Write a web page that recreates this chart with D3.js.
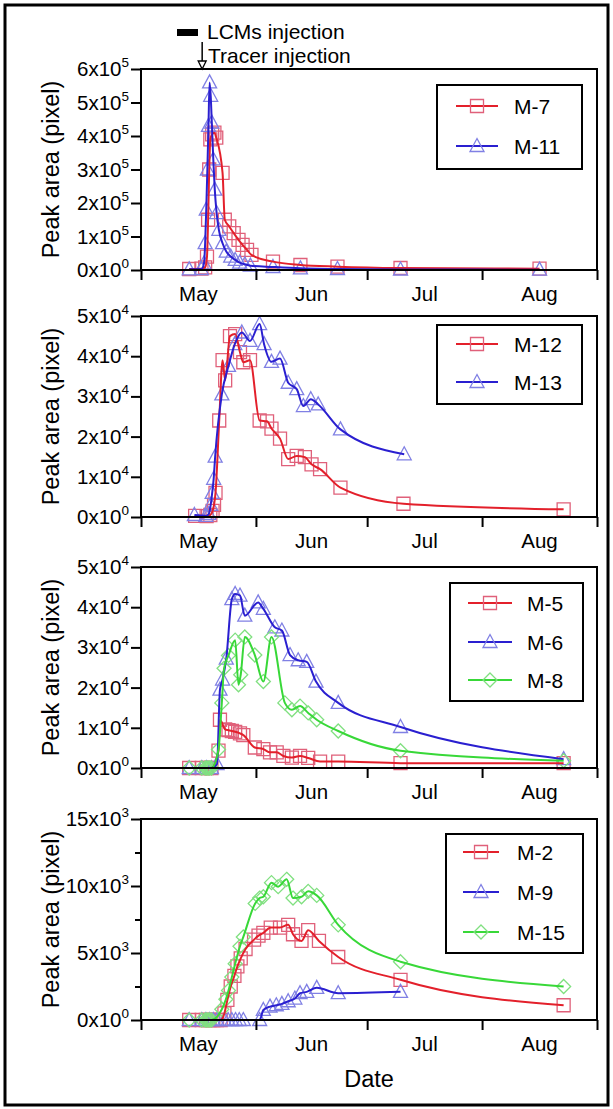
<!DOCTYPE html>
<html><head><meta charset="utf-8">
<script src="https://cdn.jsdelivr.net/npm/d3@7"></script>
<style>
body{margin:0;background:#fff}
svg{display:block}
text{font-family:"Liberation Sans",Arial,Helvetica,sans-serif;fill:#000}
</style>
</head><body>
<svg id="chart" width="613" height="1109"></svg>
<script>
// ---------- data (x = days since 1 May, y = peak area in pixel) ----------
const monthLabels = ["May", "Jun", "Jul", "Aug"];
const monthTicks = [0, 31, 61, 92, 123];
const monthMids = [15.5, 46, 76.5, 107.5];
const tracerDay = 16.5;

const m7 = [[13,3000],[16.3,4000],[17.3,8000],[17.8,40000],[18.1,150000],[18.4,300000],[18.7,390000],[19.2,405000],[19.8,410000],[20.3,395000],[22,290000],[22.6,150000],[23.8,130000],[25,110000],[26.3,90000],[27.4,75000],[28.6,60000],[29.8,45000],[35.6,25000],[43,15000],[53,10000],[70,6000],[107.5,4000]];
const m11 = [[13,2000],[16.3,3000],[17,20000],[17.3,80000],[17.6,180000],[17.9,300000],[18.2,430000],[18.5,560000],[18.8,520000],[19.1,440000],[19.5,330000],[19.9,240000],[20.4,170000],[21,120000],[22,80000],[23,55000],[24.2,40000],[25.4,30000],[26.6,22000],[28,17000],[29.5,13000],[35.6,9000],[43,5000],[53,3000],[70,1500],[107.5,1000]];

const m12 = [[14.6,300],[17.7,200],[18.7,500],[19.3,1500],[19.7,3000],[20.1,6000],[21.1,24000],[22,39000],[22.7,34000],[24,45000],[25.4,45500],[26.7,41000],[27.6,38500],[29.4,39000],[32,24000],[34,23800],[35.2,22000],[37.5,19500],[39.7,14400],[42,15200],[44.2,14900],[46,13100],[48.3,11900],[53.8,7300],[70.8,3300],[114,1900]];
const m13 = [[14.4,500],[17.5,300],[18.3,800],[18.8,3000],[19.2,6000],[19.6,9500],[20,15000],[21.8,30500],[23.6,37600],[25.3,43000],[27.2,45900],[29.4,43800],[32,48000],[33.2,43000],[35.2,38600],[37.5,39400],[39.7,33400],[42,31800],[43.8,27600],[45.8,29300],[47.8,28000],[53.8,21800],[71,15600]];

const m5 = [[13,0],[16.4,0],[17.7,0],[19,0],[20.9,4300],[21.3,12000],[22.7,9600],[23.6,9400],[24.5,9200],[25.4,9000],[26.7,8600],[27.6,8200],[30.7,5100],[33,4700],[34.8,3900],[36.6,3900],[38.4,3000],[40.7,2600],[42.9,3000],[45.1,2500],[48.3,1600],[53.2,1600],[70,1200],[114,1200]];
const m6 = [[13,0],[16.4,0],[17.7,0],[19,0],[20.5,1000],[21.3,19500],[22,22000],[23,27200],[24.5,42000],[25.4,43300],[26.7,42900],[28,37900],[31.6,41200],[33,39600],[36.1,35000],[38,34200],[40.2,28100],[42.4,26800],[44.7,26400],[47.2,21500],[53.2,16200],[70,10200],[114,2200]];
const m8 = [[13,0],[16.4,0],[17.3,0],[17.7,0],[18.1,0],[18.5,0],[19,0],[20.9,4600],[21.8,16200],[22.4,24800],[23.6,28000],[25.4,31800],[26.3,20700],[26.9,23200],[28,32600],[30.7,28100],[33,21500],[35.2,32600],[38.8,16200],[40.7,14500],[42.9,15400],[45.1,13700],[47.4,12000],[53.2,9200],[70,4300],[114,1800]];

const m2 = [[13,0],[16.4,0],[17.5,0],[18.5,0],[19.5,0],[20.5,0],[21.5,0],[22.5,500],[23.3,1500],[24.2,2500],[25.2,3300],[26,4000],[26.9,4600],[28.2,5300],[30.5,6000],[31.7,6300],[33,6500],[35,6900],[37.5,6900],[39.7,7100],[41,6400],[43.3,5900],[45.1,6700],[48,5900],[53.2,4700],[70,3000],[114,1100]];
const m9 = [[13,0],[16.4,0],[17.5,0],[18.5,0],[19.5,0],[20.5,0],[22.5,0],[23.5,0],[24.5,0],[25.5,0],[26.5,0],[27.6,0],[32,0],[33,750],[34.8,1000],[36.5,1100],[38,1200],[39.7,1400],[41.5,1600],[42.9,2000],[44.7,2100],[47.4,2400],[53.2,2000],[70,2100]];
const m15 = [[13,0],[16.4,0],[17.3,0],[17.7,0],[18.1,0],[18.5,0],[19,0],[21.8,800],[22.9,1550],[23.6,2200],[24.5,3200],[25.4,4200],[26.7,5500],[27.6,6200],[30.8,8700],[32,9100],[33,9200],[35.2,10250],[37,9950],[39.3,10500],[41,9100],[43.3,9200],[45.1,9600],[47.4,9300],[53.2,7100],[70,4350],[114,2500]];

const p1Ticks = [0,100000,200000,300000,400000,500000,600000];
const p2Ticks = [0,10000,20000,30000,40000,50000];
const p3Ticks = [0,10000,20000,30000,40000,50000];
const p4Ticks = [0,5000,10000,15000];
const p4Minor = [2500,7500,12500];

// ---------- styles ----------
const RED = {line:"#e3202b", mark:"#e0607a"};
const BLUE = {line:"#2a1fd0", mark:"#8080e4"};
const GREEN = {line:"#38d838", mark:"#80e080"};

const shapes = {
  square: "M-6.5,-6.5h13v13h-13z",
  triangle: "M0,-7.5L7,5.5L-7,5.5Z",
  diamond: "M0,-7L7,0L0,7L-7,0Z"
};

const panels = [
  {top:69, ticks:p1Ticks, minor:[], exp:5, max:600000,
   legend:{x:437,y:16,w:145,h:84,rows:[37,77],lx0:456,lx1:498,tx:514},
   series:[{name:"M-7",data:m7,c:RED,shape:"square"},{name:"M-11",data:m11,c:BLUE,shape:"triangle"}]},
  {top:316, ticks:p2Ticks, minor:[], exp:4, max:50000,
   legend:{x:437,y:9,w:145,h:79,rows:[28,66],lx0:456,lx1:498,tx:514},
   series:[{name:"M-12",data:m12,c:RED,shape:"square"},{name:"M-13",data:m13,c:BLUE,shape:"triangle"}]},
  {top:567, ticks:p3Ticks, minor:[], exp:4, max:50000,
   legend:{x:450,y:16,w:133,h:118,rows:[36,75,113],lx0:468,lx1:512,tx:527},
   series:[{name:"M-5",data:m5,c:RED,shape:"square"},{name:"M-6",data:m6,c:BLUE,shape:"triangle"},{name:"M-8",data:m8,c:GREEN,shape:"diamond"}]},
  {top:819, ticks:p4Ticks, minor:p4Minor, exp:3, max:15000,
   legend:{x:446,y:15,w:137,h:119,rows:[33,73,113],lx0:463,lx1:499,tx:517},
   series:[{name:"M-2",data:m2,c:RED,shape:"square"},{name:"M-9",data:m9,c:BLUE,shape:"triangle"},{name:"M-15",data:m15,c:GREEN,shape:"diamond"}]}
];

const PH = 201, XL = 141, XR = 597;
const svg = d3.select("#chart");

// outer frame
svg.append("rect").attr("x",5).attr("y",5).attr("width",603).attr("height",1100)
  .attr("fill","none").attr("stroke","#000").attr("stroke-width",3);

const x = d3.scaleLinear().domain([0,123]).range([XL,XR]);

panels.forEach((p,pi) => {
  const y = d3.scaleLinear().domain([0,p.max]).range([p.top+PH, p.top]);
  const g = svg.append("g");

  // series markers and lines
  p.series.forEach(s => {
    g.append("g").selectAll("path").data(s.data).join("path")
      .attr("d", shapes[s.shape])
      .attr("transform", d => `translate(${x(d[0])},${y(d[1])})`)
      .attr("fill","none").attr("stroke",s.c.mark).attr("stroke-width",1.3);
  });
  p.series.forEach(s => {
    const line = d3.line().x(d=>x(d[0])).y(d=>y(d[1])).curve(d3.curveMonotoneX);
    g.append("path").attr("d", line(s.data)).attr("fill","none")
      .attr("stroke",s.c.line).attr("stroke-width",2);
  });

  // frame
  g.append("rect").attr("x",XL).attr("y",p.top).attr("width",XR-XL).attr("height",PH)
    .attr("fill","none").attr("stroke","#000").attr("stroke-width",2);

  // y axis ticks + labels
  const yAxis = d3.axisLeft(y).tickValues(p.ticks).tickSize(10).tickFormat("");
  const ya = g.append("g").attr("transform",`translate(${XL},0)`).call(yAxis);
  ya.select(".domain").remove();
  ya.selectAll("line").attr("stroke","#000").attr("stroke-width",2);
  const ym = d3.axisLeft(y).tickValues(p.minor).tickSize(6).tickFormat("");
  const yma = g.append("g").attr("transform",`translate(${XL},0)`).call(ym);
  yma.select(".domain").remove();
  yma.selectAll("line").attr("stroke","#000").attr("stroke-width",2);

  p.ticks.forEach(v => {
    const t = g.append("text").attr("x", XL-12).attr("y", y(v)+7)
      .attr("text-anchor","end").attr("font-size",20.5);
    const mant = v===0 ? "0" : String(v/Math.pow(10,p.exp));
    const ex = v===0 ? "0" : String(p.exp);
    t.append("tspan").text(mant+"x10");
    t.append("tspan").attr("dy",-9).attr("font-size",13.5).text(ex);
  });

  // x axis
  const xAxis = d3.axisBottom(x).tickValues(monthTicks).tickSize(10).tickFormat("");
  const xa = g.append("g").attr("transform",`translate(0,${p.top+PH})`).call(xAxis);
  xa.select(".domain").remove();
  xa.selectAll("line").attr("stroke","#000").attr("stroke-width",2);
  g.selectAll(null).data(monthLabels).join("text")
    .attr("x",(d,i)=>x(monthMids[i])).attr("y",p.top+PH+31)
    .attr("text-anchor","middle").attr("font-size",20.5).text(d=>d);

  // y title
  g.append("text").attr("transform",`translate(59,${p.top+PH/2}) rotate(-90)`)
    .attr("text-anchor","middle").attr("font-size",23.5).text("Peak area (pixel)");

  // legend
  const L = p.legend;
  const lg = g.append("g");
  lg.append("rect").attr("x",L.x).attr("y",p.top+L.y).attr("width",L.w).attr("height",L.h)
    .attr("fill","#fff").attr("stroke","#000").attr("stroke-width",2);
  p.series.forEach((s,i) => {
    const yy = p.top + L.rows[i];
    lg.append("line").attr("x1",L.lx0).attr("x2",L.lx1).attr("y1",yy).attr("y2",yy)
      .attr("stroke",s.c.line).attr("stroke-width",2);
    lg.append("path").attr("d",shapes[s.shape])
      .attr("transform",`translate(${(L.lx0+L.lx1)/2},${yy})`)
      .attr("fill","none").attr("stroke",s.c.mark).attr("stroke-width",1.3);
    lg.append("text").attr("x",L.tx).attr("y",yy+7.5).attr("font-size",21).text(s.name);
  });
});

// annotations
svg.append("rect").attr("x",177).attr("y",29).attr("width",21).attr("height",7).attr("fill","#000");
svg.append("text").attr("x",207).attr("y",39).attr("font-size",21).text("LCMs injection");
const ax = x(tracerDay);
svg.append("line").attr("x1",ax).attr("x2",ax).attr("y1",42).attr("y2",62).attr("stroke","#000").attr("stroke-width",1.5);
svg.append("path").attr("d",`M${ax-4},61L${ax+4},61L${ax},69Z`).attr("fill","#fff").attr("stroke","#000").attr("stroke-width",1.3);
svg.append("text").attr("x",208).attr("y",63).attr("font-size",21).text("Tracer injection");

// x title
svg.append("text").attr("x",(XL+XR)/2).attr("y",1087).attr("text-anchor","middle")
  .attr("font-size",23.5).text("Date");
</script>
</body></html>
